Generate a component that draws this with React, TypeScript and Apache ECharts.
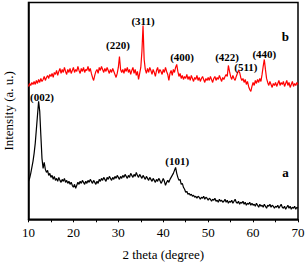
import React, { useEffect, useRef } from "react";
import * as echarts from "echarts";

// 2 theta grid: 10 to 70 step 0.25
const THETA_START = 10;
const THETA_STEP = 0.25;

// Curve b (red), intensity in arbitrary units
const intensityB: number[] = [
  133, 136, 134, 137, 135, 138, 135, 139, 136, 140, 137, 141, 138, 140, 143, 139, 142, 144, 141, 145,
  143, 146, 142, 147, 145, 149, 144, 148, 151, 146, 150, 147, 152, 148, 145, 150, 147, 151, 146, 149,
  152, 147, 150, 148, 153, 149, 146, 151, 148, 152, 147, 150, 149, 153, 148, 151, 146, 142, 139, 144,
  148, 150, 146, 152, 149, 153, 150, 147, 151, 148, 152, 149, 146, 150, 147, 151, 148, 145, 142, 146,
  152, 163, 150, 147, 150, 146, 151, 148, 152, 147, 150, 145, 149, 152, 146, 150, 144, 148, 140, 146,
  152, 168, 194, 160, 150, 146, 151, 147, 152, 149, 145, 150, 147, 143, 149, 152, 146, 150, 148, 145,
  150, 147, 152, 148, 145, 139, 146, 149, 144, 150, 147, 152, 155, 148, 143, 146, 141, 144, 140, 143,
  141, 145, 140, 143, 139, 144, 141, 138, 142, 140, 144, 139, 142, 138, 141, 143, 140, 137, 141, 139,
  142, 139, 143, 140, 137, 141, 143, 139, 142, 140, 144, 141, 138, 142, 140, 143, 145, 143, 154, 148,
  143, 140, 144, 141, 139, 143, 146, 149, 147, 142, 139, 141, 137, 140, 135, 138, 133, 130, 128, 133,
  137, 134, 139, 136, 140, 137, 141, 138, 145, 153, 160, 150, 141, 137, 134, 138, 135, 132, 136, 134,
  137, 133, 136, 139, 134, 137, 135, 138, 133, 136, 139, 134, 137, 132, 135, 138, 133, 136, 134, 137,
  135,
];

// Curve a (black)
const intensityA: number[] = [
  38, 41, 46, 52, 58, 66, 76, 90, 104, 118, 108, 84, 61, 51, 57, 50, 47, 49, 44, 46,
  42, 44, 40, 43, 39, 41, 38, 42, 39, 37, 40, 38, 41, 37, 39, 36, 38, 35, 37, 34,
  32, 35, 31, 34, 37, 35, 38, 36, 39, 37, 35, 38, 36, 39, 37, 40, 38, 36, 39, 37,
  35, 38, 36, 40, 38, 41, 39, 42, 40, 38, 42, 40, 43, 41, 39, 42, 40, 43, 41, 44,
  42, 40, 43, 41, 44, 42, 45, 43, 41, 44, 42, 46, 44, 42, 45, 43, 47, 44, 42, 45,
  43, 41, 44, 42, 40, 43, 41, 39, 42, 40, 38, 41, 39, 37, 40, 38, 41, 39, 36, 38,
  41, 38, 34, 37, 39, 37, 40, 42, 44, 46, 49, 52, 46, 42, 39, 40, 35, 36, 32, 30,
  27, 28, 25, 26, 24, 25, 23, 24, 22, 23, 21, 23, 22, 20, 22, 21, 23, 20, 22, 21,
  19, 21, 20, 18, 20, 19, 21, 18, 19, 17, 20, 18, 19, 17, 18, 20, 17, 19, 16, 18,
  17, 19, 16, 18, 20, 17, 16, 18, 15, 17, 16, 18, 15, 17, 14, 16, 15, 17, 14, 16,
  14, 15, 13, 16, 14, 12, 15, 13, 14, 12, 15, 13, 11, 14, 13, 15, 12, 14, 13, 11,
  13, 12, 14, 11, 13, 15, 12, 11, 13, 10, 12, 14, 11, 13, 10, 12, 11, 13, 10, 12,
  11,
];

// Peak annotations: label, theta, intensity of label centre
const labelsB: [string, number, number][] = [
  ["(220)", 29.9, 174],
  ["(311)", 35.5, 198],
  ["(400)", 44.2, 162],
  ["(422)", 54.2, 162],
  ["(511)", 58.4, 152],
  ["(440)", 62.5, 165],
];
const labelsA: [string, number, number][] = [
  ["(002)", 13.0, 122],
  ["(101)", 43.1, 58],
];
const curveNames: [string, number, number][] = [
  ["b", 67.2, 183],
  ["a", 67.2, 47],
];

const xTicks = [10, 20, 30, 40, 50, 60, 70];

const FONT = "'Liberation Serif', 'Times New Roman', serif";

function toPairs(vals: number[]): [number, number][] {
  return vals.map((v, i) => [THETA_START + i * THETA_STEP, v]);
}

function markPts(list: [string, number, number][], size: number) {
  return {
    silent: true,
    symbol: "circle",
    symbolSize: 0,
    animation: false,
    itemStyle: { color: "rgba(0,0,0,0)" },
    label: {
      show: true,
      position: "inside",
      color: "#000",
      fontFamily: FONT,
      fontWeight: "bold",
      fontSize: size,
      formatter: (p: any) => p.name,
    },
    data: list.map(([t, x, y]) => ({ name: t, coord: [x, y] })),
  };
}

export default function App() {
  const ref = useRef<HTMLDivElement>(null);
  useEffect(() => {
    if (!ref.current) return;
    const chart = echarts.init(ref.current, null, { renderer: "svg" });
    chart.setOption({
      animation: false,
      grid: {
        left: 28.5,
        right: 9,
        top: 2.5,
        bottom: 44.7,
        outerBoundsMode: "none",
        containLabel: false,
        show: true,
        borderColor: "#000",
        borderWidth: 1.5,
        backgroundColor: "transparent",
      },
      xAxis: {
        type: "value",
        min: 10,
        max: 70,
        interval: 5,
        name: "2 theta (degree)",
        nameLocation: "middle",
        nameGap: 29,
        nameTextStyle: { fontFamily: FONT, fontSize: 13, color: "#000" },
        axisLine: { show: true, lineStyle: { color: "#000", width: 1.5 } },
        axisTick: { show: true, inside: false, length: 3, lineStyle: { color: "#000" } },
        axisLabel: {
          margin: 7,
          fontFamily: FONT,
          fontSize: 13,
          color: "#000",
          formatter: (v: number) => (xTicks.includes(v) ? String(v) : ""),
        },
        splitLine: { show: false },
      },
      yAxis: {
        type: "value",
        min: 0,
        max: 217,
        name: "Intensity (a. u.)",
        nameLocation: "middle",
        nameGap: 14,
        nameTextStyle: { fontFamily: FONT, fontSize: 13, color: "#000" },
        axisLine: { show: true, lineStyle: { color: "#000", width: 1.5 } },
        axisTick: { show: false },
        axisLabel: { show: false },
        splitLine: { show: false },
      },
      series: [
        {
          type: "line",
          data: toPairs(intensityA),
          showSymbol: false,
          symbol: "none",
          lineStyle: { color: "#000", width: 1.2 },
          markPoint: markPts(labelsA, 11),
        },
        {
          type: "line",
          data: toPairs(intensityB),
          showSymbol: false,
          symbol: "none",
          lineStyle: { color: "#ff0000", width: 1.2 },
          markPoint: markPts(labelsB, 11),
        },
        {
          type: "line",
          data: [],
          markPoint: markPts(curveNames, 13),
        },
      ],
    });
    return () => chart.dispose();
  }, []);
  return <div ref={ref} style={{ width: 307, height: 264, position: "absolute", left: 0, top: 0 }} />;
}
